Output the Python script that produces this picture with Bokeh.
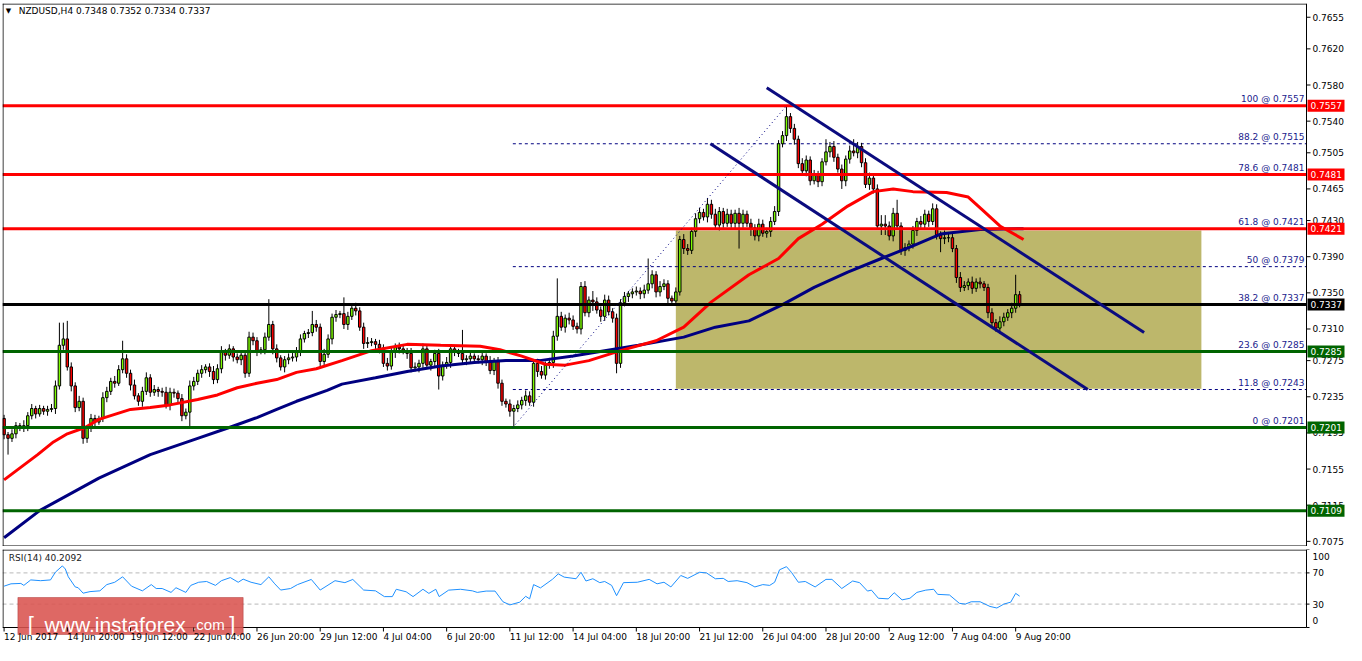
from bokeh.plotting import figure
from bokeh.layouts import column
from bokeh.models import ColumnDataSource, Label, Range1d
from bokeh.core.properties import value
from bokeh.embed import file_html
from bokeh.resources import INLINE

# ---------------- data ----------------
header_text = "NZDUSD,H4  0.7348 0.7352 0.7334 0.7337"
rsi_header = "RSI(14) 40.2092"

# H4 candles, prices as pips above 0.7000
first_open = 211
closes = [
    193, 189, 194, 203, 200, 203, 214, 222, 216, 222,
    219, 221, 222, 247, 292, 299, 268, 247, 223, 230,
    189, 200, 211, 207, 211, 234, 241, 252, 250, 265,
    277, 261, 248, 236, 230, 241, 256, 240, 243, 241,
    240, 226, 240, 239, 233, 214, 218, 247, 252, 261,
    265, 268, 263, 254, 266, 284, 281, 288, 279, 276,
    281, 261, 301, 297, 286, 287, 301, 315, 288, 278,
    268, 276, 278, 279, 286, 299, 305, 306, 315, 312,
    274, 282, 299, 323, 326, 327, 315, 324, 333, 330,
    312, 294, 295, 296, 293, 289, 272, 269, 284, 290,
    288, 286, 283, 267, 268, 272, 288, 270, 274, 283,
    258, 270, 273, 288, 285, 283, 276, 277, 280, 277,
    276, 280, 274, 264, 274, 250, 230, 227, 219, 222,
    226, 231, 236, 229, 272, 263, 259, 270, 273, 302,
    324, 312, 322, 320, 313, 310, 357, 328, 342, 340,
    331, 324, 342, 329, 322, 272, 339, 346, 349, 351,
    352, 349, 353, 360, 370, 351, 357, 360, 344, 341,
    351, 409, 399, 397, 418, 432, 439, 434, 448, 437,
    425, 440, 427, 437, 427, 438, 427, 437, 427, 422,
    413, 426, 416, 418, 429, 440, 515, 524, 545, 532,
    520, 493, 485, 497, 474, 480, 473, 495, 506, 512,
    500, 487, 474, 498, 507, 505, 512, 494, 470, 477,
    465, 424, 426, 424, 413, 438, 424, 397, 400, 404,
    419, 429, 426, 437, 429, 443, 414, 410, 411, 411,
    399, 367, 356, 358, 362, 355, 362, 360, 356, 328,
    317, 311, 318, 323, 328, 333, 348, 337,
]
upper_wick = [
    4, 3, 5, 4, 3, 6, 4, 5, 3, 4,
    3, 4, 5, 6, 25, 18, 20, 5, 4, 6,
    4, 3, 5, 4, 3, 6, 5, 4, 6, 5,
    20, 5, 4, 6, 3, 5, 6, 4, 5, 3,
    4, 6, 5, 4, 3, 5, 4, 6, 5, 4,
    5, 3, 4, 6, 5, 7, 4, 5, 3, 4,
    5, 4, 6, 5, 4, 3, 5, 28, 4, 5,
    3, 4, 5, 6, 4, 5, 3, 4, 15, 5,
    4, 6, 5, 4, 5, 3, 18, 5, 4, 6,
    4, 5, 6, 4, 3, 5, 4, 6, 5, 4,
    5, 4, 3, 6, 5, 4, 6, 5, 3, 4,
    5, 4, 6, 5, 4, 3, 26, 4, 5, 3,
    4, 5, 3, 6, 4, 5, 4, 3, 5, 4,
    5, 4, 6, 5, 4, 5, 6, 4, 5, 6,
    42, 5, 4, 6, 5, 4, 5, 6, 4, 10,
    5, 4, 6, 5, 4, 5, 4, 5, 3, 4,
    5, 4, 6, 28, 5, 4, 6, 5, 4, 3,
    5, 4, 6, 5, 4, 6, 5, 4, 7, 5,
    6, 5, 4, 6, 5, 4, 6, 5, 4, 5,
    4, 6, 5, 4, 5, 6, 4, 5, 12, 4,
    5, 4, 6, 5, 4, 6, 5, 4, 14, 5,
    6, 4, 5, 4, 6, 13, 5, 4, 5, 6,
    4, 5, 10, 10, 5, 6, 15, 4, 5, 4,
    5, 4, 6, 5, 4, 6, 5, 4, 8, 6,
    5, 4, 6, 5, 4, 6, 4, 5, 3, 4,
    5, 4, 6, 5, 4, 6, 22, 4,
]
lower_wick = [
    5, 18, 4, 5, 3, 4, 6, 4, 5, 3,
    4, 5, 3, 6, 4, 5, 4, 6, 5, 4,
    6, 5, 4, 5, 3, 4, 5, 4, 5, 3,
    4, 5, 6, 4, 5, 6, 4, 5, 4, 6,
    5, 4, 6, 5, 4, 6, 4, 18, 5, 4,
    5, 4, 6, 5, 4, 5, 6, 4, 5, 4,
    6, 5, 4, 5, 6, 4, 5, 4, 6, 5,
    4, 6, 5, 4, 5, 6, 4, 5, 4, 5,
    6, 5, 4, 6, 5, 4, 5, 6, 4, 5,
    4, 6, 5, 4, 5, 6, 4, 5, 4, 6,
    5, 4, 6, 5, 4, 6, 5, 4, 6, 5,
    15, 5, 4, 6, 5, 4, 5, 6, 4, 5,
    4, 6, 5, 4, 5, 6, 5, 4, 6, 18,
    4, 5, 6, 4, 5, 6, 4, 5, 4, 6,
    5, 4, 6, 5, 4, 5, 6, 4, 5, 10,
    4, 6, 5, 4, 5, 11, 5, 4, 6, 5,
    4, 6, 5, 4, 5, 6, 5, 4, 6, 5,
    5, 4, 6, 5, 4, 6, 5, 4, 6, 5,
    4, 6, 5, 4, 5, 6, 28, 5, 4, 9,
    5, 6, 4, 5, 6, 4, 5, 4, 6, 5,
    6, 5, 4, 6, 5, 4, 6, 5, 4, 6,
    5, 4, 9, 6, 5, 4, 6, 5, 4, 6,
    5, 4, 10, 10, 5, 6, 4, 5, 6, 4,
    5, 6, 4, 5, 6, 4, 5, 15, 6, 5,
    4, 6, 5, 4, 5, 6, 4, 5, 4, 6,
    5, 4, 6, 5, 4, 6, 5, 3,
]

# moving averages (bar index, price)
red_ma_bar = [0, 8.5, 12.5, 16, 20.5, 24, 32, 37, 42, 49, 54, 59, 64, 69, 74, 79, 85.5, 93, 102,
              110.5, 120.5, 125.5, 131, 137, 142, 148, 156, 165, 172, 179, 188.5, 196, 201, 207,
              213.5, 220, 225, 230, 238.5, 244, 247.5, 252, 258]
red_ma_val = [0.7143, 0.7171, 0.7185, 0.7194, 0.7201, 0.7210, 0.7221, 0.7223, 0.7226, 0.7232, 0.7237,
              0.7245, 0.7250, 0.7254, 0.7262, 0.7266, 0.7275, 0.7286, 0.7293, 0.7292, 0.7291, 0.7287,
              0.7280, 0.7271, 0.7270, 0.7275, 0.7286, 0.7297, 0.7312, 0.7340, 0.7370, 0.7388, 0.7410,
              0.7426, 0.7446, 0.7462, 0.7465, 0.7462, 0.7461, 0.7456, 0.7442, 0.7424, 0.7409]
blue_ma_bar = [0, 9, 24, 37, 49, 57, 64, 69, 74, 81.75, 85.5, 94, 102, 110.5, 119, 127, 135.5, 144,
               152, 160.5, 172, 180, 188.5, 197, 205, 213.5, 222, 230, 237, 242.5, 247, 258]
blue_ma_val = [0.7079, 0.7109, 0.7145, 0.7171, 0.7189, 0.7201, 0.7212, 0.7221, 0.7230, 0.7242, 0.7249,
               0.7256, 0.7263, 0.7269, 0.7273, 0.7275, 0.7275, 0.7280, 0.7286, 0.7292, 0.7301, 0.7312,
               0.7319, 0.7337, 0.7356, 0.7373, 0.7388, 0.7402, 0.7415, 0.7418, 0.7420, 0.7421]

# RSI(14) (bar index, value)
rsi_bar = [0, 1.75, 4.25, 5, 6.75, 9.25, 11.75, 13, 14.75, 15.5, 16.25, 18, 18.75, 20, 21.75, 24.25, 26,
           28, 30, 32.25, 35, 37.25, 38.5, 40, 42.25, 43.5, 46, 47.25, 49.25, 51.25, 53.5, 55, 57.25,
           59.25, 60.5, 62.5, 65, 67, 68.5, 70, 72.5, 74.25, 77.75, 80, 83.75, 86.25, 88.25, 91, 94,
           96.25, 98.25, 99.25, 101.75, 103.5, 106, 107.5, 109.25, 110.1, 112.5, 115.5, 118.5, 119.75,
           122, 124.25, 126.25, 128, 130.5, 132, 133, 134, 135.75, 138.75, 140.25, 141.75, 144.75, 146,
           147.25, 149, 150.75, 152, 153.75, 155, 156.75, 160.25, 163.25, 165.25, 167, 168.75, 171.25,
           173, 176, 177.75, 180, 182, 183.25, 185.5, 188, 190, 192, 193.75, 195, 196.25, 198, 199.25,
           201, 202.75, 205.25, 208, 209.5, 212, 214.75, 216.5, 218.5, 219.5, 221.25, 223.75, 225.25,
           227.25, 229.25, 231, 233.25, 235.25, 236.25, 239.25, 241.75, 243.25, 244.75, 247, 249.5,
           251.25, 253, 254.75, 256, 257]
rsi_val = [53, 56, 56.5, 54, 61, 60, 61, 71, 79, 75, 65, 52, 51, 44, 46, 47, 55,
           58, 65, 53, 47, 55, 50, 50, 45, 51, 45, 54, 58, 59, 54, 60, 64,
           58, 62, 58, 55, 65, 56, 48, 50, 55, 61.6, 48, 60, 57.5, 61.6, 48, 47,
           39.6, 39.6, 49, 45.8, 39.6, 49, 43.75, 49, 39.6, 47.9, 49, 47, 45,
           46.7, 46.7, 33, 29, 32.5, 40, 36.7, 55, 50.8, 61.7, 68.75, 64.6, 62.5, 70.8,
           59.6, 62.5, 57.5, 59, 54, 40.8, 57.5, 58, 61.7, 56, 58, 52, 66.7,
           63, 70.8, 70, 62.5, 63, 59, 60, 57.5, 52, 55, 54, 58, 74, 78, 70.8,
           58, 59, 52, 61.7, 61.7, 50, 59.6, 57.5, 46.7, 47.9, 37.5, 36.7, 44.6,
           35.4, 37.5, 45, 47.9, 49, 42.5, 41.7, 31, 30, 33, 33, 27,
           25, 30, 32.5, 43.75, 40.21]

time_labels = ["12 Jun 2017", "14 Jun 20:00", "19 Jun 12:00", "22 Jun 04:00", "26 Jun 20:00",
               "29 Jun 12:00", "4 Jul 04:00", "6 Jul 20:00", "11 Jul 12:00", "14 Jul 04:00",
               "18 Jul 20:00", "21 Jul 12:00", "26 Jul 04:00", "28 Jul 20:00", "2 Aug 12:00",
               "7 Aug 04:00", "9 Aug 20:00"]
bars_per_time_label = 16

price_ticks = [0.7075, 0.7115, 0.7155, 0.7195, 0.7235, 0.7275, 0.7310, 0.7350, 0.7390, 0.7430,
               0.7465, 0.7505, 0.7540, 0.7580, 0.7620, 0.7655]
rsi_ticks = [0, 30, 70, 100]
rsi_levels = [30, 70]

fib_low, fib_high = 0.7201, 0.7557
fib_low_bar, fib_high_bar = 128.75, 198
fib_pcts = [100, 88.2, 78.6, 61.8, 50, 38.2, 23.6, 11.8, 0]

level_prices = [0.7557, 0.7481, 0.7421, 0.7337, 0.7285, 0.7201, 0.7109]
level_colors = ["#FF0000", "#FF0000", "#FF0000", "#000000", "#006400", "#006400", "#006400"]

channel_upper = [(193, 0.7577), (288.5, 0.7306)]
channel_lower = [(178.75, 0.7515), (274.25, 0.7243)]
zone = dict(left=170, right=303, bottom=0.7244, top=0.7419)

watermark = [("[", "22px"), ("www.instaforex", "21px"), (".com", "15px"), ("]", "22px")]

# ---------------- geometry ----------------
FONT = "DejaVu Sans"
W = 1346
FRAME_W = W - 4               # frame spans almost the whole width (axis drawn by hand)
CHART_PX = 1304               # width of the candle area
X0, XF = -0.4, 329.6          # candle area in bar units
PXB = CHART_PX / (XF - X0)    # pixels per bar
X1 = X0 + FRAME_W / PXB
Y0, Y1 = 0.70693, 0.76702
MAIN_H = 543
PXP = MAIN_H / (Y1 - Y0)      # pixels per price unit
RSI_PX = 78                   # rsi panel height
RSI_BELOW = 17                # space for time labels
PXR = RSI_PX / 100
R0 = -RSI_BELOW / PXR


def dx(px):
    return px / PXB


def dy(px):
    return px / PXP


def dr(px):
    return px / PXR


# ---------------- main chart ----------------
opens = [first_open] + closes[:-1]
xs, tops, bots, highs, lows, cols = [], [], [], [], [], []
for i, (o, c) in enumerate(zip(opens, closes)):
    xs.append(i)
    tops.append(0.7 + max(o, c) / 10000)
    bots.append(0.7 + min(o, c) / 10000)
    highs.append(0.7 + (max(o, c) + upper_wick[i]) / 10000)
    lows.append(0.7 + (min(o, c) - lower_wick[i]) / 10000)
    cols.append("#7CFC00" if c >= o else "#FF0000")
src = ColumnDataSource(dict(x=xs, top=tops, bottom=bots, high=highs, low=lows, color=cols))

p = figure(width=W, height=MAIN_H + 3, x_range=Range1d(X0, X1), y_range=Range1d(Y0, Y1),
           output_backend="svg", toolbar_location=None, x_axis_location=None,
           y_axis_location=None, min_border_left=2, min_border_right=2,
           min_border_top=3, min_border_bottom=0)
p.grid.visible = False
p.outline_line_color = None
p.background_fill_color = "white"
p.border_fill_color = "white"

# zone
p.quad(left=[zone["left"]], right=[zone["right"]], bottom=[zone["bottom"]], top=[zone["top"]],
       fill_color="#BDB76B", line_color=None)

# fibonacci dashed levels
fib_levels = [fib_low + (fib_high - fib_low) * q / 100 for q in fib_pcts]
p.segment(x0=[fib_low_bar] * len(fib_levels), y0=fib_levels, x1=[XF] * len(fib_levels), y1=fib_levels,
          line_color="#000080", line_width=1, line_dash="3 3")

# candles
p.segment(x0="x", y0="low", x1="x", y1="high", source=src, line_color="black", line_width=1)
p.vbar(x="x", width=0.62, top="top", bottom="bottom", fill_color="color", line_color="black",
       line_width=1, source=src)

# moving averages
p.line(blue_ma_bar, blue_ma_val, line_color="#000080", line_width=3)
p.line(red_ma_bar, red_ma_val, line_color="#FF0000", line_width=3)

# horizontal support / resistance
p.segment(x0=[X0] * len(level_prices), y0=level_prices, x1=[XF] * len(level_prices), y1=level_prices,
          line_color=level_colors, line_width=3)

# channel lines
for (a, b) in (channel_upper, channel_lower):
    p.line([a[0], b[0]], [a[1], b[1]], line_color="#0B0B7F", line_width=3)

# fib trend line
p.line([fib_low_bar, fib_high_bar], [fib_low, fib_high], line_color="#000080", line_width=1,
       line_dash="1 3")

# fib labels
p.text(x=[XF - dx(2)] * len(fib_levels), y=[lv + dy(1.5) for lv in fib_levels],
       text=[f"{q:g} @ {lv:.4f}" for q, lv in zip(fib_pcts, fib_levels)],
       text_align="right", text_baseline="bottom", text_font=value(FONT),
       text_font_size=value("9px"), text_color="#1A1A8C")

# frame of the chart area
p.segment(x0=[X0 + dx(0.5), X0, X0, XF], y0=[Y0, Y1 - dy(0.5), Y0 + dy(0.5), Y0],
          x1=[X0 + dx(0.5), XF, XF, XF], y1=[Y1, Y1 - dy(0.5), Y0 + dy(0.5), Y1],
          line_color="black", line_width=1)

# price axis (right)
p.segment(x0=[XF] * len(price_ticks), y0=price_ticks, x1=[XF + dx(4)] * len(price_ticks),
          y1=price_ticks, line_color="black", line_width=1)
p.text(x=[XF + dx(6)] * len(price_ticks), y=price_ticks, text=[f"{t:.4f}" for t in price_ticks],
       text_align="left", text_baseline="middle", text_font=value(FONT),
       text_font_size=value("9px"), text_color="black")

# price boxes on the axis
p.quad(left=[XF + dx(1)] * len(level_prices), right=[XF + dx(40)] * len(level_prices),
       top=[lv + dy(6) for lv in level_prices], bottom=[lv - dy(6) for lv in level_prices],
       fill_color=level_colors, line_color=None)
p.text(x=[XF + dx(4)] * len(level_prices), y=level_prices, text=[f"{lv:.4f}" for lv in level_prices],
       text_align="left", text_baseline="middle", text_font=value(FONT),
       text_font_size=value("9px"), text_color="white")

# header
p.add_layout(Label(x=0.4, y=Y1 - dy(7), text="\u25BC", text_font=FONT, text_font_size="7px",
                   text_baseline="middle", text_color="black"))
p.add_layout(Label(x=3.7, y=Y1 - dy(7), text=header_text, text_font=FONT, text_font_size="9px",
                   text_baseline="middle", text_color="black"))

# ---------------- RSI panel ----------------
p2 = figure(width=W, height=RSI_PX + RSI_BELOW + 3, x_range=p.x_range, y_range=Range1d(R0, 100),
            output_backend="svg", toolbar_location=None, x_axis_location=None,
            y_axis_location=None, min_border_left=2, min_border_right=2,
            min_border_top=3, min_border_bottom=0)
p2.grid.visible = False
p2.outline_line_color = None
p2.border_fill_color = "white"
p2.background_fill_color = "white"

p2.segment(x0=[X0] * 2, y0=rsi_levels, x1=[XF] * 2, y1=rsi_levels, line_color="#B8B8B8",
           line_width=1, line_dash="4 3")
p2.line(rsi_bar, rsi_val, line_color="#1E90FF", line_width=1)

# panel frame
p2.segment(x0=[X0 + dx(0.5), X0, X0, XF], y0=[0, 100 - dr(0.5), 0, 0],
           x1=[X0 + dx(0.5), XF, XF, XF], y1=[100, 100 - dr(0.5), 0, 100],
           line_color="black", line_width=1)

# rsi axis
p2.segment(x0=[XF] * len(rsi_ticks), y0=rsi_ticks, x1=[XF + dx(3)] * len(rsi_ticks), y1=rsi_ticks,
           line_color="black", line_width=1)
p2.text(x=[XF + dx(6)] * len(rsi_ticks), y=[min(max(t, dr(7)), 100 - dr(7)) for t in rsi_ticks],
        text=[f"{t}" for t in rsi_ticks], text_align="left", text_baseline="middle",
        text_font=value(FONT), text_font_size=value("9px"), text_color="black")

p2.add_layout(Label(x=1.2, y=100 - dr(8), text=rsi_header, text_font=FONT, text_font_size="9px",
                    text_baseline="middle", text_color="#202020"))

# watermark
wm_left, wm_right = 3.5, 60.5
p2.quad(left=[wm_left], right=[wm_right], top=[dr(30)], bottom=[-dr(7)], fill_color="#D9534F",
        fill_alpha=0.88, line_color="#B03A3A", line_alpha=0.5)
wm_x = [6.0, 10.25, 47.6, 57.0]
p2.text(x=wm_x, y=[dr(3)] * 4, text=[t for t, _ in watermark], text_align="left",
        text_baseline="alphabetic", text_font=value("Liberation Sans"),
        text_font_size=[s for _, s in watermark], text_color="white")

# time axis
tick_bars = [k * bars_per_time_label for k in range(len(time_labels))]
p2.segment(x0=tick_bars, y0=[0] * len(tick_bars), x1=tick_bars, y1=[-dr(4)] * len(tick_bars),
           line_color="black", line_width=1)
p2.text(x=tick_bars, y=[-dr(4)] * len(tick_bars), text=time_labels, text_align="left",
        text_baseline="top", text_font=value(FONT), text_font_size=value("9px"), text_color="black")

layout = column(p, p2, spacing=0)
open("out.html", "w").write(file_html(layout, INLINE))
